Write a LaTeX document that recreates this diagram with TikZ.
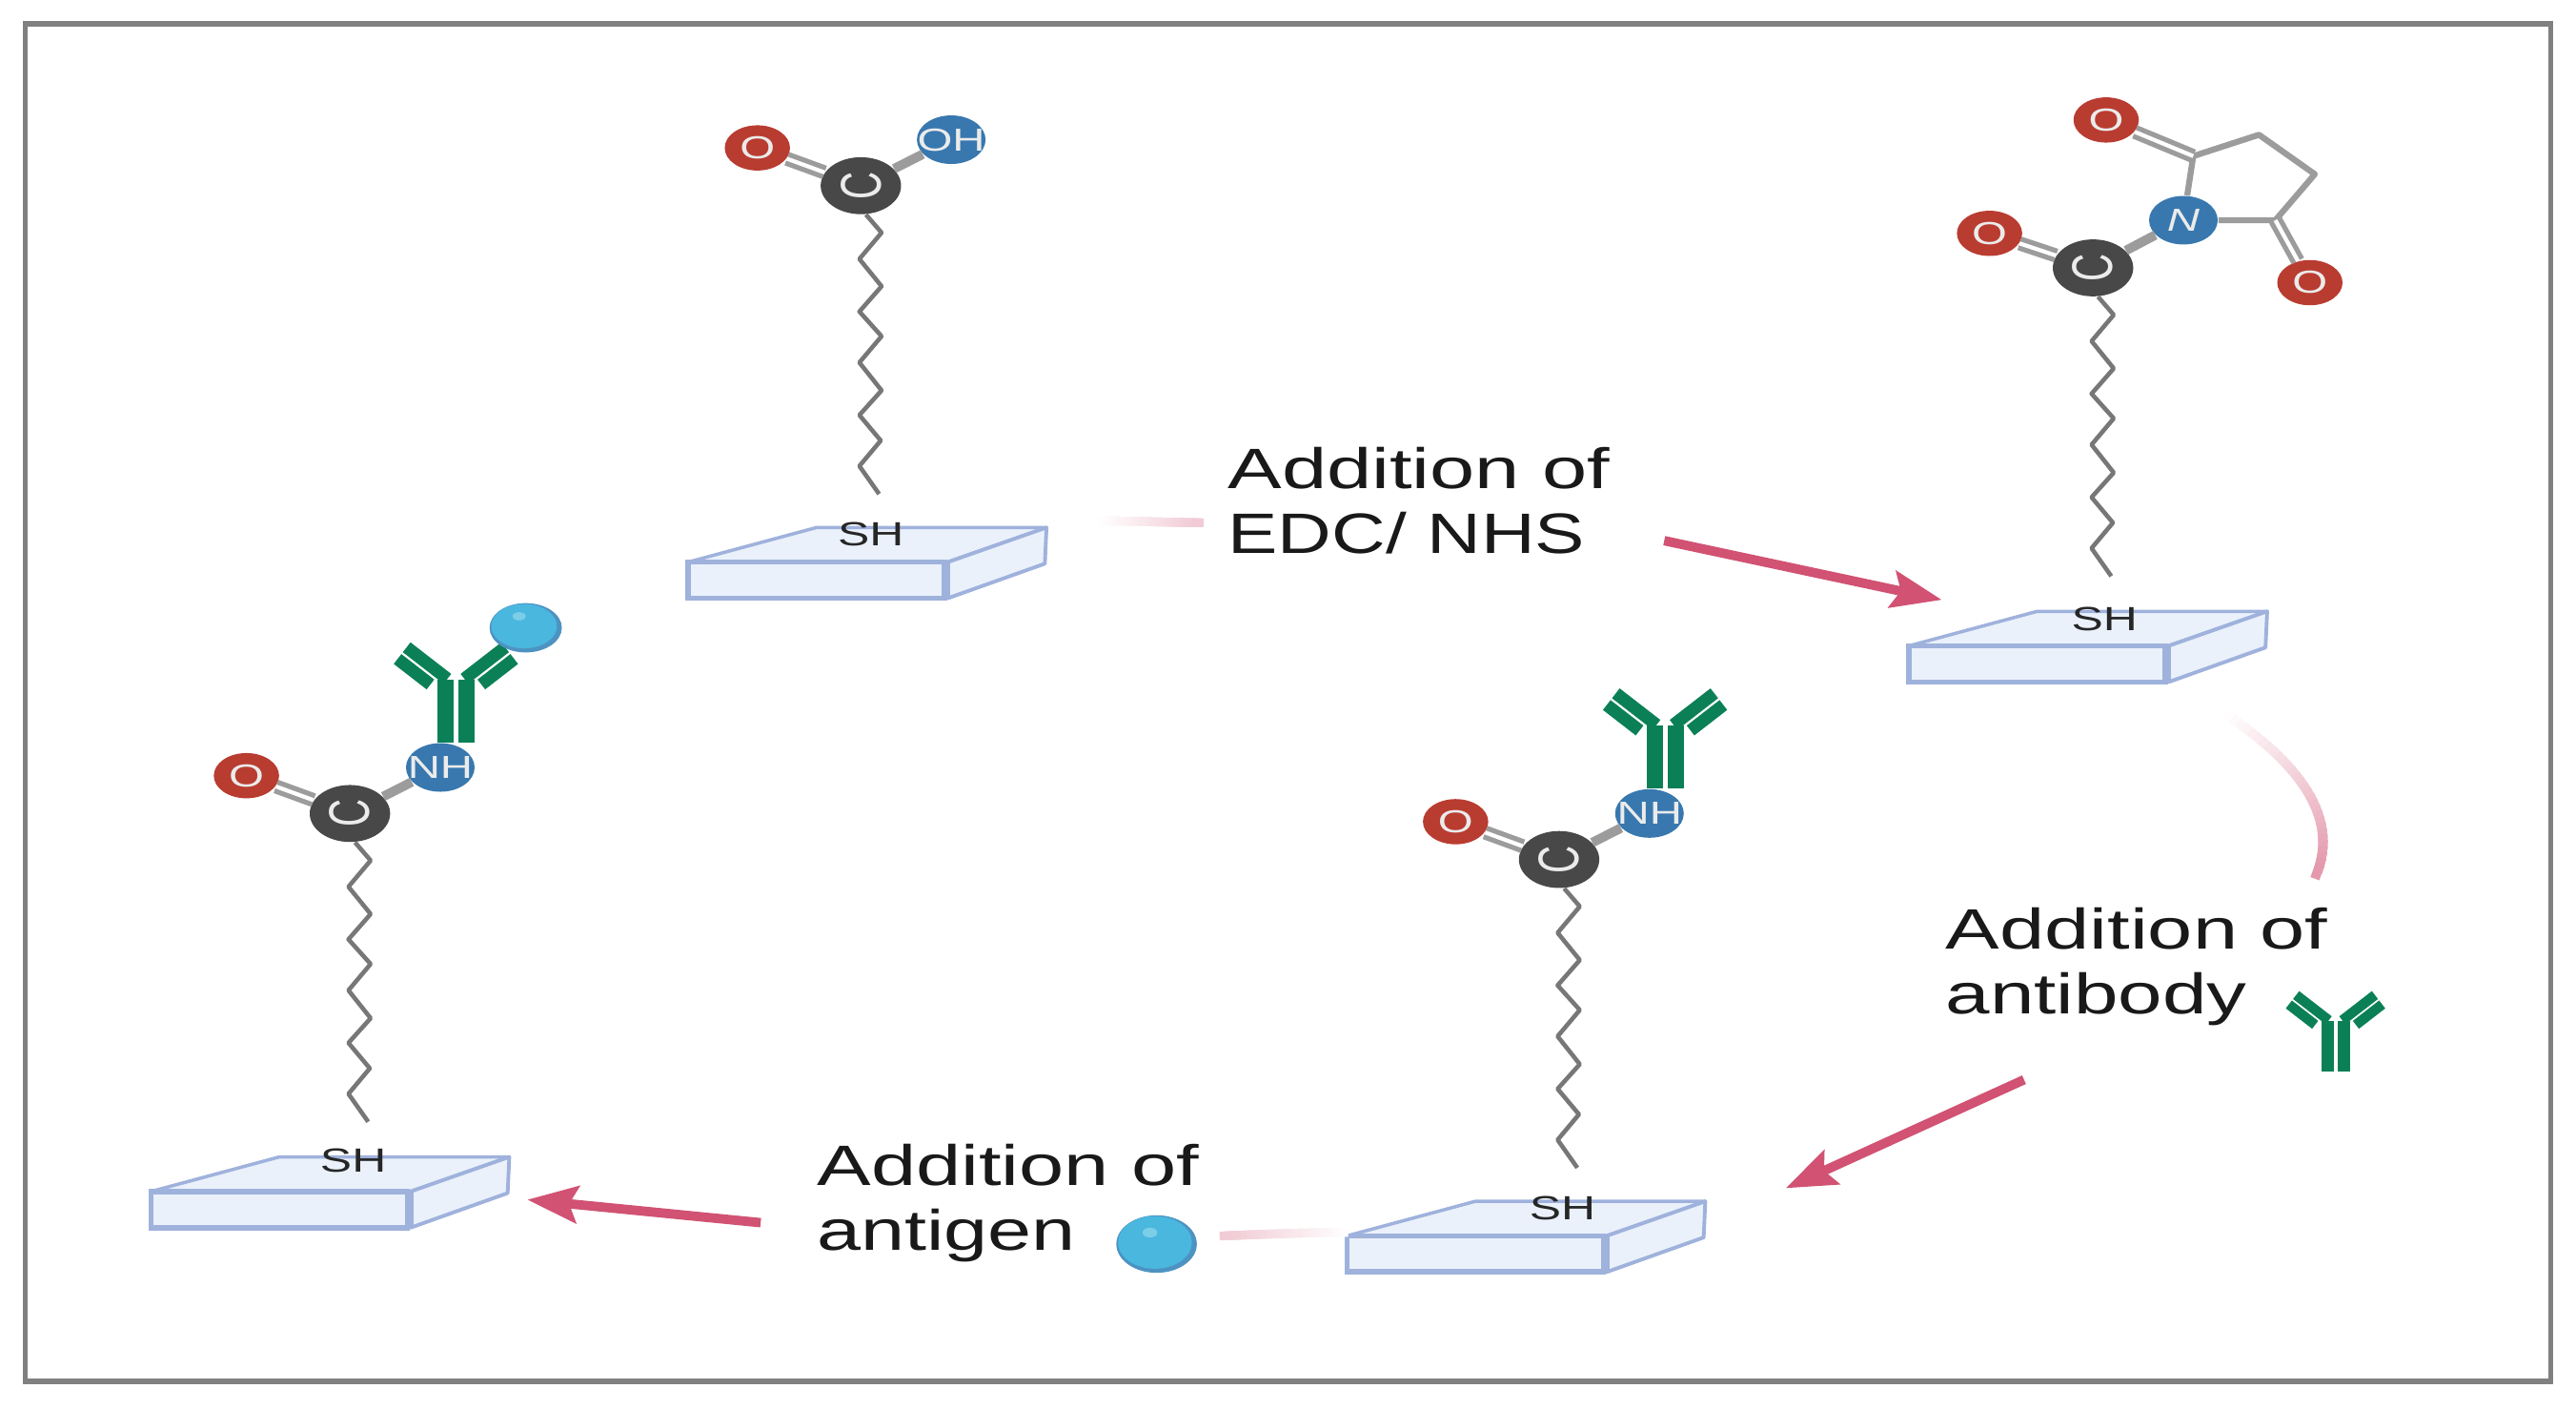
\documentclass[tikz,border=0pt]{standalone}
\usepackage{fontspec}
\setmainfont{Liberation Sans}[FakeStretch=1.42]
\usetikzlibrary{shapes.geometric,arrows.meta}

\definecolor{framegray}{HTML}{808080}
\definecolor{oxred}{HTML}{B93C30}
\definecolor{carbon}{HTML}{484848}
\definecolor{nitblue}{HTML}{3878AF}
\definecolor{bondgray}{HTML}{9C9C9C}
\definecolor{chaingray}{HTML}{777777}
\definecolor{slabfill}{HTML}{EAF1FB}
\definecolor{slabline}{HTML}{9FB2DC}
\definecolor{arrowpink}{HTML}{D15273}
\definecolor{abgreen}{HTML}{0B8057}
\definecolor{agblue}{HTML}{4AB7DF}
\definecolor{agrim}{HTML}{4D93C2}
\definecolor{aglight}{HTML}{7CCDE8}

% zigzag linker, relative steps
\newcommand\zzchain{-- ++(9.5,11) -- ++(-13.5,16) -- ++(13.5,16.6) -- ++(-13.5,15.4) -- ++(13.5,15) -- ++(-13.5,16) -- ++(13.5,17) -- ++(-13.5,15) -- ++(13,15.5) -- ++(-13,15.5) -- ++(12,17)}
% the carbon letter lies on its back, wide and shallow
\newcommand\carbonC{\scalebox{1.8}[.85]{\rotatebox{90}{C}}}

% pale start of an arrow: from, c1, c2, to, start %, end %, width
\newcommand\fadecurve[7]{%
  \foreach \i in {1,...,30}{%
    \pgfmathsetmacro\pct{#5+(#6-#5)*(\i-0.5)/30}
    \path (#1) .. controls (#2) and (#3) .. (#4)
      coordinate[pos=(\i-1)/30] (fa) coordinate[pos=\i/30] (fb);
    \draw[line width=#7, line cap=rect, draw=arrowpink!\pct!white] (fa) -- (fb);
  }}

\tikzset{
  atom/.style={ellipse, inner sep=0pt, text=white!92!black, font=\fontsize{9.5pt}{10pt}\selectfont},
  oatom/.style={atom, fill=oxred, minimum width=19.5pt, minimum height=13.5pt},
  catom/.style={atom, fill=carbon, minimum width=24pt, minimum height=17pt},
  natom/.style={atom, fill=nitblue, minimum width=20.5pt, minimum height=14.5pt},
  dbond/.style={draw=bondgray, line width=4.2pt, postaction={draw=white, line width=1.2pt}},
  sbond/.style={draw=bondgray, line width=2.8pt},
  ring/.style={draw=bondgray, line width=1.8pt, line join=round},
  linker/.style={draw=chaingray, line width=1.3pt, line join=round},
  shlabel/.style={inner sep=0pt, text=black!85, font=\fontsize{10pt}{11pt}\selectfont},
  steplabel/.style={inner sep=0pt, anchor=north west, align=left, text=black!90, font=\fontsize{17pt}{19.2pt}\selectfont},
  reaction/.style={draw=arrowpink, line width=2.8pt, -{Stealth[length=15pt, width=11pt, inset=2.5pt]}},
  slab/.pic={
    \filldraw[fill=slabfill, draw=slabline, line width=1pt, line join=round] (0,0) -- (78,-21) -- (218,-21) -- (158,0) -- cycle;
    \filldraw[fill=slabfill, draw=slabline, line width=1.1pt, line join=round] (158,0) -- (218,-21) -- (217,1) -- (158,22) -- cycle;
    \filldraw[fill=slabfill, draw=slabline, line width=1.6pt] (0,0) rectangle (156,22);
    \draw[slabline, line width=1.6pt] (158,0) -- (158,22);
  },
  antibody/.pic={
    \fill[abgreen] (-11.5,-38.6) rectangle (-1.8,0);
    \fill[abgreen] (1,-38.6) rectangle (10.8,0);
    \fill[abgreen] (-33.68,-54) -- (-13.68,-38.5) -- (-18.32,-32.5) -- (-38.32,-48) -- cycle;
    \fill[abgreen] (-28.15,-61.13) -- (-3.35,-41.93) -- (-7.99,-35.93) -- (-32.79,-55.13) -- cycle;
    \fill[abgreen] (32.68,-54) -- (12.68,-38.5) -- (17.32,-32.5) -- (37.32,-48) -- cycle;
    \fill[abgreen] (27.15,-61.13) -- (2.35,-41.93) -- (6.99,-35.93) -- (31.79,-55.13) -- cycle;
  },
}

\begin{document}
\begin{tikzpicture}[x=0.01724cm, y=-0.01724cm]
\useasboundingbox (0,0) rectangle (1568,857);
\fill[white] (0,0) rectangle (1568,857);
\draw[framegray, line width=1.5pt] (15.5,14.5) rectangle (1552.5,840.5);

% supports
\pic at (419,342) {slab};
\pic at (1162,393) {slab};
\pic at (820,752) {slab};
\pic at (92,725) {slab};
\node[shlabel] (sh1) at (530,325) {SH};
\node[shlabel] (sh2) at (1281,377) {SH};
\node[shlabel] (sh3) at (951,735) {SH};
\node[shlabel] (sh4) at (215,706) {SH};

% molecule 1
\node[catom] (c1) at (524,113) {\carbonC};
\node[oatom] (o1) at (461,90) {O};
\node[natom] (n1) at (579,85) {\makebox[0pt]{OH}};
\draw[dbond] (o1) -- (c1);
\draw[sbond] (c1) -- (n1);
\draw[linker] (c1.280) \zzchain;

% molecule 2 with succinimide ring
\node[catom] (c2) at (1274,163) {\carbonC};
\node[oatom] (o2) at (1211,142) {O};
\node[natom] (n2) at (1329,134) {\itshape N};
\node[oatom] (o2a) at (1282,73) {O};
\node[oatom] (o2b) at (1406,172) {O};
\coordinate (r1) at (1335,95);
\coordinate (r2) at (1375,82);
\coordinate (r3) at (1409,106);
\coordinate (r4) at (1385,134);
\draw[dbond] (o2) -- (c2);
\draw[sbond] (c2) -- (n2);
\draw[ring] (n2) -- (r1) -- (r2) -- (r3) -- (r4) -- (n2);
\draw[dbond] (o2a) -- (r1);
\draw[dbond] (o2b) -- (r4);
\draw[linker] (c2.280) \zzchain;

% molecule 3 with antibody
\pic at (1014,480) {antibody};
\node[catom] (c3) at (949,523) {\carbonC};
\node[oatom] (o3) at (886,500) {O};
\node[natom] (n3) at (1004,495) {\makebox[0pt]{NH}};
\draw[dbond] (o3) -- (c3);
\draw[sbond] (c3) -- (n3);
\draw[linker] (c3.280) \zzchain;

% molecule 4 with antibody and antigen
\pic at (278,452) {antibody};
\node[catom] (c4) at (213,495) {\carbonC};
\node[oatom] (o4) at (150,472) {O};
\node[natom] (n4) at (268,467) {\makebox[0pt]{NH}};
\draw[dbond] (o4) -- (c4);
\draw[sbond] (c4) -- (n4);
\draw[linker] (c4.280) \zzchain;
\fill[agrim] (320,382) ellipse (22 and 15);
\fill[agblue] (319,381) ellipse (20 and 13.5);
\fill[aglight] (316,375) ellipse (4 and 2.5);

% free antibody and antigen
\pic[scale=.8] at (1422,652) {antibody};
\fill[agrim] (704,757) ellipse (24.5 and 17.5);
\fill[agblue] (703,756) ellipse (22.5 and 16);
\fill[aglight] (700,750) ellipse (4.5 and 3);

% step labels
\node[steplabel] (t1) at (747,272) {Addition of\\\scalebox{.925}[1]{EDC/ NHS}};
\node[steplabel] (t2) at (1184,552) {Addition of\\\scalebox{.985}[1]{antibody}};
\node[steplabel] (t3) at (497,696) {Addition of\\\scalebox{.975}[1]{antigen}};

% reaction arrows
\coordinate (f1a) at (672,317);
\coordinate (f1b) at (692,317);
\coordinate (f1c) at (712,318);
\coordinate (f1d) at (730,318);
\fadecurve{f1a}{f1b}{f1c}{f1d}{0}{30}{2.6pt}
\coordinate (a1s) at (1013,329);
\coordinate (a1e) at (1182,365);
\draw[reaction] (a1s) -- (a1e);

\coordinate (f2a) at (1357,436);
\coordinate (f2b) at (1395,462);
\coordinate (f2c) at (1425,495);
\coordinate (f2d) at (1410,532);
\fadecurve{f2a}{f2b}{f2c}{f2d}{0}{60}{2.8pt}
\coordinate (a2s) at (1232,657);
\coordinate (a2e) at (1087,723);
\draw[reaction] (a2s) -- (a2e);

\coordinate (f3a) at (818,750);
\coordinate (f3b) at (795,750);
\coordinate (f3c) at (770,751);
\coordinate (f3d) at (745,752);
\fadecurve{f3a}{f3b}{f3c}{f3d}{0}{30}{2.6pt}
\coordinate (a3s) at (463,744);
\coordinate (a3e) at (321,730);
\draw[reaction] (a3s) -- (a3e);
\end{tikzpicture}
\end{document}
